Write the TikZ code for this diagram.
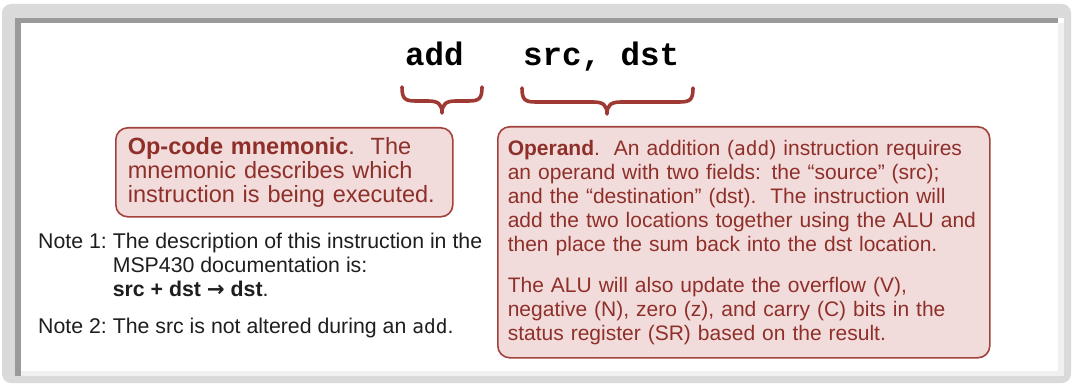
\documentclass[tikz,border=0pt]{standalone}
\usepackage{fontspec}
\setmainfont{Liberation Sans}
\newfontfamily\codefont{Liberation Mono}
\newfontfamily\inlinemono{DejaVu Sans Mono}
\newfontfamily\arrowfont{DejaVu Sans}
\definecolor{framegray}{HTML}{DADADA}
\definecolor{edgegray}{HTML}{9A9A9A}
\definecolor{boxfill}{HTML}{F2DCDB}
\definecolor{boxline}{HTML}{A3423C}
\definecolor{boxtext}{HTML}{8E2F2A}
\definecolor{bracecol}{HTML}{9E3A33}
\definecolor{notetext}{HTML}{1E1E1E}
\tikzset{
  infobox/.style={draw=boxline, line width=1.6pt, fill=boxfill, rounded corners=12pt,
    text=boxtext, align=left, anchor=north west, inner ysep=0pt},
  codetext/.style={font=\codefont\bfseries\fontsize{32.5}{36}\selectfont, inner sep=0pt, anchor=base west, text=black},
  bracepath/.style={draw=bracecol, line width=3.6pt, line cap=round, line join=round},
}
\begin{document}
\begin{tikzpicture}[x=1pt,y=-1pt]
\useasboundingbox (0,0) rectangle (1073,385);
% frame
\fill[framegray, rounded corners=9pt] (2,4) rectangle (1071,383);
\fill[white] (15,18) rectangle (1064,376);
\fill[edgegray] (15,18) rectangle (1058,23.5);
\fill[edgegray] (15,18) rectangle (21,376);
\fill[white!94!black] (1058,23.5) rectangle (1064,376);
\fill[white!94!black] (21,371) rectangle (1064,376);
% instruction text
\node[codetext] (opc) at (405,66) {add};
\node[codetext] (opr) at (523,66) {src, dst};
% braces
\coordinate (b1l) at (402,87);
\coordinate (b1r) at (482,87);
\coordinate (b1t) at (442,113);
\draw[bracepath] (b1l) .. controls (402,99) and (405,101) .. (416,101) -- (428,101)
   .. controls (438,101) and (442,104) .. (b1t)
   .. controls (442,104) and (446,101) .. (456,101) -- (468,101)
   .. controls (479,101) and (482,99) .. (b1r);
\coordinate (b2l) at (522,88);
\coordinate (b2r) at (693,88);
\coordinate (b2t) at (607,114);
\draw[bracepath] (b2l) .. controls (522,100) and (525,102) .. (536,102) -- (593,102)
   .. controls (603,102) and (607,105) .. (b2t)
   .. controls (607,105) and (611,102) .. (621,102) -- (679,102)
   .. controls (690,102) and (693,100) .. (b2r);
% boxes
\node[infobox, font=\fontsize{23.5}{24}\selectfont, minimum width=337pt, minimum height=89pt, text width=313pt, inner xsep=12pt] (mnem) at (115,127)
 {\textbf{Op-code mnemonic}.\ \ The\\ mnemonic describes which\\ instruction is being executed.};
\node[infobox, font=\fontsize{21}{24}\selectfont, minimum width=492pt, minimum height=231pt, text width=472pt, inner xsep=10pt] (operand) at (497,126)
 {\textbf{Operand}.\ \ An addition ({\inlinemono\fontsize{19.5}{24}\selectfont add}) instruction requires\\
  an operand with two fields: the “source” (src);\\
  and the “destination” (dst).\ \ The instruction will\\
  add the two locations together using the ALU and\\
  then place the sum back into the dst location.\\[17pt]
  The ALU will also update the overflow (V),\\
  negative (N), zero (z), and carry (C) bits in the\\
  status register (SR) based on the result.};
% notes
\node[anchor=base west, inner sep=0pt, text=notetext, font=\fontsize{21.3}{24}\selectfont] (notes) at (38,248)
 {\begin{tabular}[t]{@{}l@{\ }l@{}}
  Note 1: & The description of this instruction in the\\
          & MSP430 documentation is:\\
          & \textbf{src + dst {\arrowfont →} dst}.\\[13pt]
  Note 2: & The src is not altered during an {\inlinemono\fontsize{19.5}{24}\selectfont add}.
  \end{tabular}};
\end{tikzpicture}
\end{document}
